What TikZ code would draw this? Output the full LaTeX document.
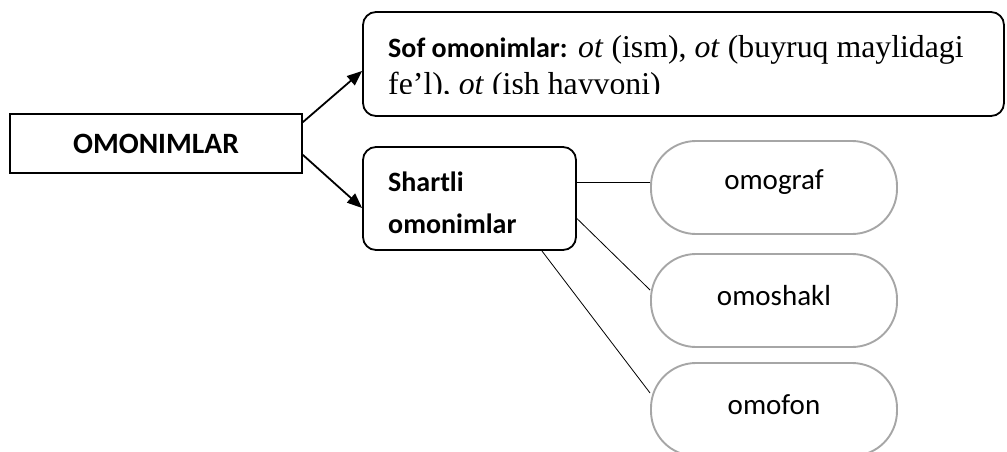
\documentclass[tikz,border=0pt]{standalone}
\usepackage{fontspec}
\setmainfont{Liberation Serif}
\newfontfamily\calfont{Carlito}
\usetikzlibrary{arrows.meta}
\definecolor{pillgray}{HTML}{A6A6A6}
\begin{document}
\begin{tikzpicture}[x=1pt,y=-1pt,
  blackbox/.style={draw=black,line width=1.8pt,rounded corners=13pt,inner sep=0pt},
  mainbox/.style={draw=black,line width=1.8pt,inner sep=0pt},
  pill/.style={draw=pillgray,line width=1.9pt,rounded corners=45pt,inner sep=0pt,
     minimum width=246pt,minimum height=93pt},
  pilltext/.style={inner sep=0pt,font=\calfont\fontsize{29}{34}\selectfont},
  conn/.style={draw=black,line width=0.8pt},
  arr/.style={draw=black,line width=1.8pt,-{Triangle[length=15pt,width=12pt]}},
  calb/.style={font=\calfont\bfseries\fontsize{28}{34}\selectfont},
  serif/.style={font=\fontsize{31.8}{36}\selectfont}
]
\useasboundingbox (0,0) rectangle (1007,451);
% main box
\node[mainbox,minimum width=292pt,minimum height=59pt,font=\calfont\bfseries\fontsize{29.5}{34}\selectfont] (om) at (156,143.5) {OMONIMLAR};
% Sof box
\node[blackbox,minimum width=641pt,minimum height=104pt] (sof) at (683.5,64) {};
\begin{scope}
\clip (365,14) rectangle (1002,93);
\node[anchor=base west,inner sep=0pt,serif] (sofl1) at (388,57)
  {{\calfont\bfseries\fontsize{28}{34}\selectfont Sof omonimlar:} \textit{ot} (ism), \textit{ot} (buyruq maylidagi};
\node[anchor=base west,inner sep=0pt,serif] (sofl2) at (388,94)
  {fe’l), \textit{ot} (ish hayvoni)};
\end{scope}
% Shartli box
\node[blackbox,minimum width=213pt,minimum height=103pt] (sh) at (469.5,198.5) {};
\node[anchor=base west,inner sep=0pt,calb] (shl1) at (388,191) {Shartli};
\node[anchor=base west,inner sep=0pt,calb] (shl2) at (388,233) {omonimlar};
% pills
\node[pill] (og) at (774,187.5) {};
\node[pill] (osh) at (774,300.5) {};
\node[pill] (of) at (774,409.5) {};
\node[pilltext] (ogt) at ([yshift=5pt]og.center) {omograf};
\node[pilltext] (osht) at ([yshift=5pt]osh.center) {omoshakl};
\node[pilltext] (oft) at ([yshift=5pt]of.center) {omofon};
% arrows
\draw[arr] ([yshift=-9pt]om.north east) -- ([yshift=-7pt]sof.west);
\draw[arr] ([yshift=19pt]om.south east) -- ([yshift=-9.5pt]sh.west);
% connectors
\coordinate (e1) at ([yshift=5.5pt]og.west);
\coordinate (s1) at (sh.east |- e1);
\draw[conn] (s1) -- (e1);
\draw[conn] ([yshift=-20pt]sh.east) -- ([yshift=10.5pt]osh.west);
\draw[conn] ([xshift=-35pt]sh.south east) -- ([yshift=16.5pt]of.west);
\end{tikzpicture}
\end{document}
